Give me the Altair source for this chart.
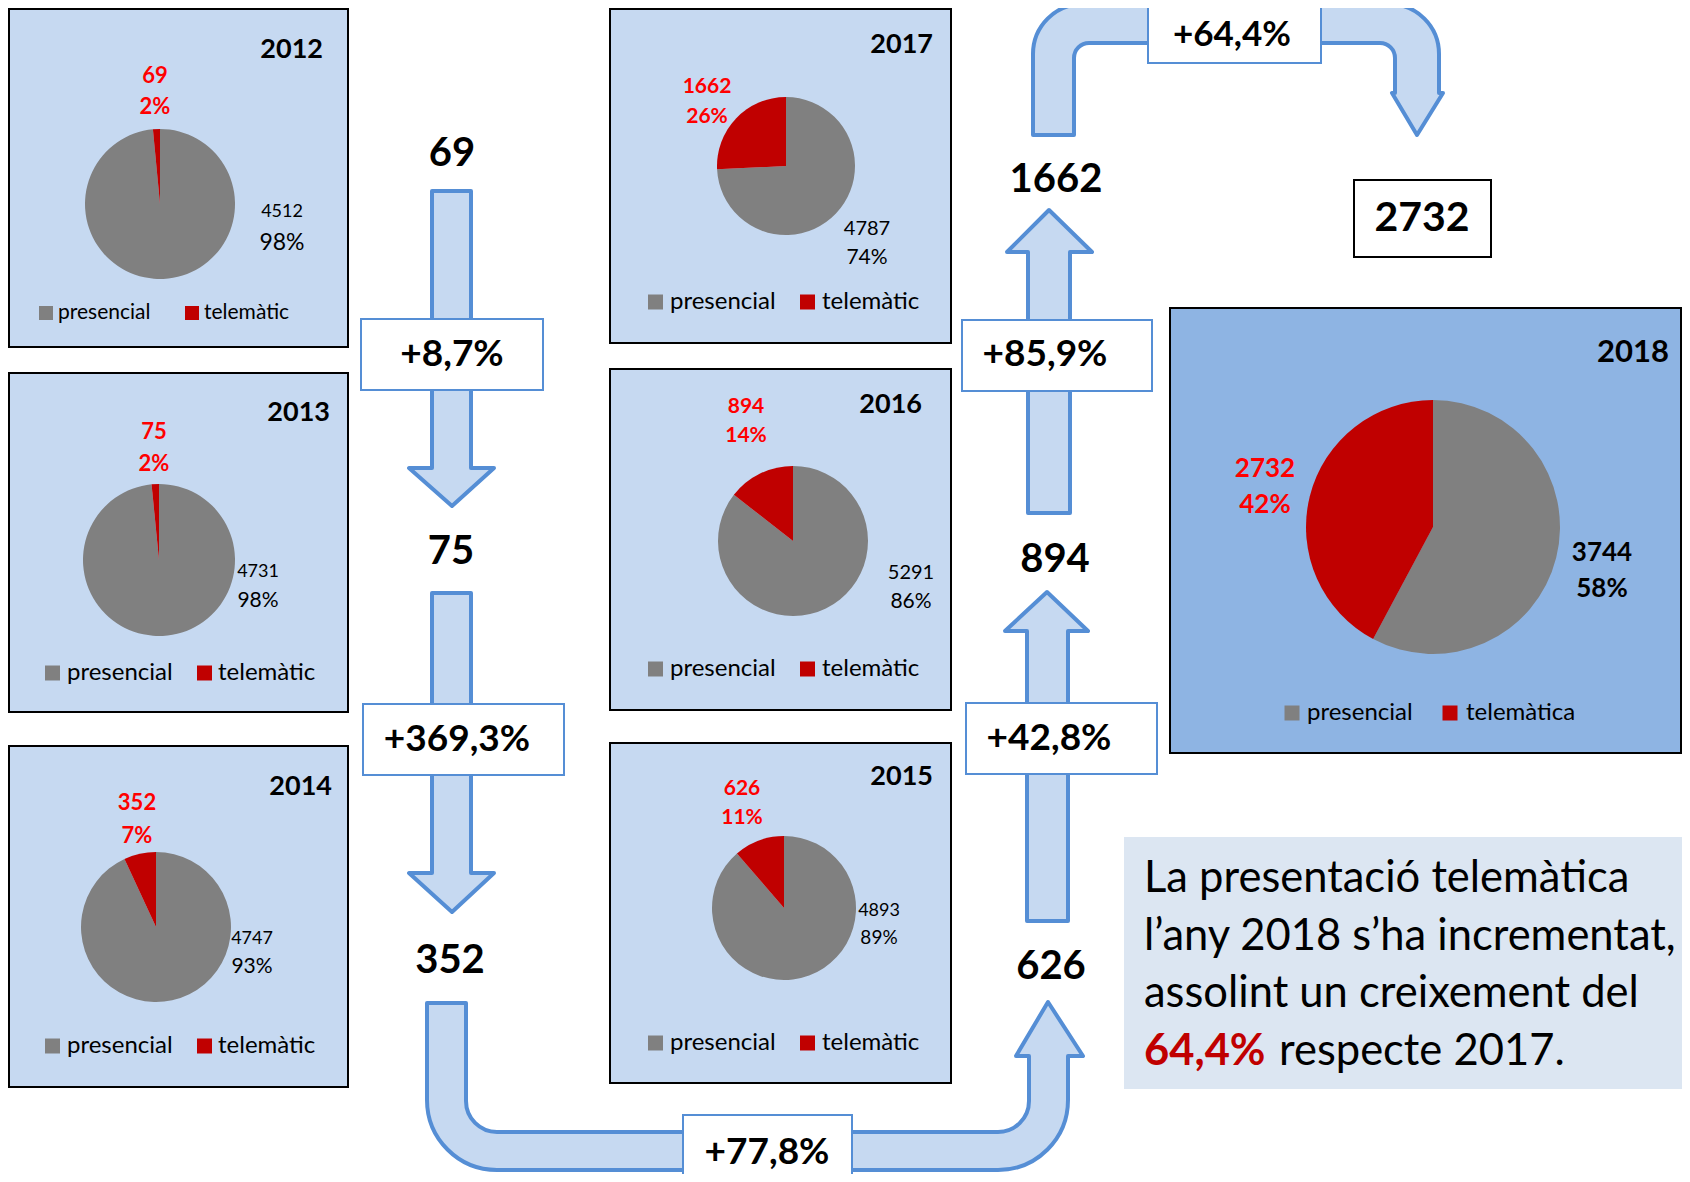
import altair as alt
import pandas as pd

# ---------------- data ----------------
years = [2012, 2013, 2014, 2015, 2016, 2017, 2018]
presencial = [4512, 4731, 4747, 4893, 5291, 4787, 3744]
telematic = [69, 75, 352, 626, 894, 1662, 2732]
pct_presencial = ["98%", "98%", "93%", "89%", "86%", "74%", "58%"]
pct_telematic = ["2%", "2%", "7%", "11%", "14%", "26%", "42%"]
categories = ["presencial", "telemàtic"]
legend_labels = ["presencial", "telemàtic"]
legend_labels_2018 = ["presencial", "telemàtica"]
growth = ["+8,7%", "+369,3%", "+77,8%", "+42,8%", "+85,9%", "+64,4%"]
paragraph = ["La presentació telemàtica", "l’any 2018 s’ha incrementat,", "assolint un creixement del"]
para_highlight = "64,4%"
para_tail = "respecte 2017."

# ---------------- layout (pixel positions) ----------------
FONT = "Lato"
PANEL_BG = "#C6D9F1"
PANEL_BG_2018 = "#8EB4E3"
ARROW_FILL = "#C6D9F1"
ARROW_STROKE = "#558ED5"

layout = {
    2012: dict(panel=(9, 348, 9, 347), pie=(160, 204, 75), title=(323, 50, 27),
               red=(155, 76, 107, 22), black=(282, 212, 243, 18, 23),
               legend=(46, 58, 192, 204, 313, 14, 21)),
    2013: dict(panel=(9, 348, 373, 712), pie=(159, 560, 76), title=(330, 413, 27),
               red=(154, 432, 464, 22), black=(258, 572, 601, 18, 21),
               legend=(52.5, 67, 204.5, 218, 673, 15, 24)),
    2014: dict(panel=(9, 348, 746, 1087), pie=(156, 927, 75), title=(332, 787, 27),
               red=(137, 803, 836, 22), black=(252, 939, 967, 18, 21),
               legend=(52.5, 67, 204.5, 218, 1046, 15, 24)),
    2015: dict(panel=(610, 951, 743, 1083), pie=(784, 908, 72), title=(933, 777, 27),
               red=(742, 789, 818, 21), black=(879, 911, 938, 18, 19),
               legend=(655.5, 670, 807.5, 822, 1043, 15, 24)),
    2016: dict(panel=(610, 951, 369, 710), pie=(793, 541, 75), title=(922, 405, 27),
               red=(746, 407, 436, 21), black=(911, 573, 602, 20, 21),
               legend=(655.5, 670, 807.5, 822, 669, 15, 24)),
    2017: dict(panel=(610, 951, 9, 343), pie=(786, 166, 69), title=(933, 45, 27),
               red=(707, 87, 117, 21), black=(867, 229, 258, 20, 21),
               legend=(655.5, 670, 807.5, 822, 302, 15, 24)),
    2018: dict(panel=(1170, 1681, 308, 753), pie=(1433, 527, 127), title=(1669, 353, 31),
               red=(1265, 469, 505, 26), black=(1602, 553, 589, 26, 26),
               legend=(1292, 1307, 1450, 1466, 713, 15, 24)),
}

# positions of the big flow numbers (2012..2017)
flow_pos = [(452, 154), (451, 552), (450, 961), (1051, 967), (1055, 560), (1056, 180)]
# growth boxes: (x0, x1, y0, y1, label x, label y, font size)
growth_boxes = [
    (361, 543, 319, 390, 452, 355, 37),
    (363, 564, 704, 775, 457, 740, 37),
    (683, 852, 1115, 1195, 767, 1153, 37),
    (966, 1157, 703, 774, 1049, 739, 37),
    (962, 1152, 320, 391, 1045, 355, 37),
    (1148, 1321, -10, 63, 1232, 35, 35),
]
final_box = (1354, 1491, 180, 257, 1422, 219)
text_box = (1124, 1700, 837, 1089)
para_x = 1144
para_baselines = [892, 950, 1007, 1065]
para_tail_x = 1279
PARA_SIZE = 43.5


def P(*cmds):
    return " ".join(cmds)


# arrow outlines (SVG path commands in page pixels)
arrow_paths = [
    # 69 -> 75
    P("M432,191", "L471,191", "L471,468", "L494,468", "L452,506", "L409,468", "L432,468", "Z"),
    # 75 -> 352
    P("M432,593", "L471,593", "L471,873", "L494,873", "L452,912", "L409,873", "L432,873", "Z"),
    # 352 -> 626 (U-turn at bottom)
    P("M427,1003", "L466,1003", "L466,1101", "A31,31,0,0,0,497,1132", "L998,1132",
      "A31,31,0,0,0,1029,1101", "L1029,1056", "L1016,1056", "L1048,1002", "L1083,1056",
      "L1068,1056", "L1068,1100", "A70,70,0,0,1,998,1170", "L497,1170",
      "A70,70,0,0,1,427,1100", "Z"),
    # 626 -> 894
    P("M1027,921", "L1027,631", "L1005,631", "L1047,592", "L1088,631", "L1068,631", "L1068,921", "Z"),
    # 894 -> 1662
    P("M1028,513", "L1028,252", "L1007,252", "L1049,210", "L1092,252", "L1070,252", "L1070,513", "Z"),
    # 1662 -> 2732 (U-turn at top)
    P("M1033,135", "L1033,54", "A50,50,0,0,1,1083,4", "L1389,4", "A50,50,0,0,1,1439,54",
      "L1439,93", "L1443,93", "L1417,135", "L1392,93", "L1395,93", "L1395,58",
      "A15,15,0,0,0,1380,43", "L1089,43", "A15,15,0,0,0,1074,58", "L1074,135", "Z"),
]

# ---------------- scales ----------------
XS = alt.Scale(domain=[8, 1682], nice=False, zero=False)
YS = alt.Scale(domain=[8, 1174], nice=False, zero=False, reverse=True)
CS = alt.Scale(domain=categories, range=["#808080", "#C00000"])


def X(field=None, datum=None):
    if datum is not None:
        return alt.X(datum=datum, scale=XS, axis=None)
    return alt.X(field, type="quantitative", scale=XS, axis=None)


def Y(field=None, datum=None):
    if datum is not None:
        return alt.Y(datum=datum, scale=YS, axis=None)
    return alt.Y(field, type="quantitative", scale=YS, axis=None)


layers = []

# panel backgrounds
panel_rows = []
for y in years:
    x0, x1, y0, y1 = layout[y]["panel"]
    panel_rows.append(dict(x0=x0, x1=x1, y0=y0, y1=y1,
                           f=PANEL_BG_2018 if y == 2018 else PANEL_BG))
layers.append(
    alt.Chart(pd.DataFrame(panel_rows)).mark_rect(stroke="black", strokeWidth=2).encode(
        x=X("x0"), x2="x1", y=Y("y0"), y2="y1", fill=alt.Fill("f:N", scale=None)
    )
)

# text box background
tb = pd.DataFrame([dict(x0=text_box[0], x1=text_box[1], y0=text_box[2], y1=text_box[3])])
layers.append(
    alt.Chart(tb).mark_rect(fill="#DCE6F2").encode(x=X("x0"), x2="x1", y=Y("y0"), y2="y1")
)

# arrows
arrows_df = pd.DataFrame(dict(ax=[0] * len(arrow_paths), ay=[0] * len(arrow_paths), p=arrow_paths))
layers.append(
    alt.Chart(arrows_df).mark_point(
        filled=True, fill=ARROW_FILL, stroke=ARROW_STROKE, strokeWidth=4, opacity=1,
        fillOpacity=1, strokeOpacity=1, size=4, strokeJoin="round"
    ).encode(x=X("ax"), y=Y("ay"), shape=alt.Shape("p:N", scale=None))
)

# growth boxes
gb = pd.DataFrame([dict(x0=b[0], x1=b[1], y0=b[2], y1=b[3], lx=b[4], ly=b[5], fs=b[6], t=g)
                   for b, g in zip(growth_boxes, growth)])
layers.append(
    alt.Chart(gb).mark_rect(fill="white", stroke=ARROW_STROKE, strokeWidth=2).encode(
        x=X("x0"), x2="x1", y=Y("y0"), y2="y1"
    )
)
layers.append(
    alt.Chart(gb).mark_text(font=FONT, fontWeight="bold", color="black",
                            align="center", baseline="middle").encode(
        x=X("lx"), y=Y("ly"), text="t:N", size=alt.Size("fs:Q", scale=None, legend=None))
)

# final box 2732
fb = pd.DataFrame([dict(x0=final_box[0], x1=final_box[1], y0=final_box[2], y1=final_box[3],
                        lx=final_box[4], ly=final_box[5], t=str(telematic[-1]))])
layers.append(
    alt.Chart(fb).mark_rect(fill="white", stroke="black", strokeWidth=2).encode(
        x=X("x0"), x2="x1", y=Y("y0"), y2="y1")
)
layers.append(
    alt.Chart(fb).mark_text(font=FONT, fontSize=41, fontWeight="bold", color="black",
                            align="center", baseline="middle").encode(
        x=X("lx"), y=Y("ly"), text="t:N")
)

# flow numbers
flow = pd.DataFrame([dict(x=p[0], y=p[1], t=str(v)) for p, v in zip(flow_pos, telematic[:6])])
layers.append(
    alt.Chart(flow).mark_text(font=FONT, fontSize=40, fontWeight="bold", color="black",
                              align="center", baseline="middle").encode(
        x=X("x"), y=Y("y"), text="t:N")
)

# pies
pie_rows = []
for i, y in enumerate(years):
    pie_rows.append(dict(year=y, categoria=categories[0], valor=presencial[i], ord=0))
    pie_rows.append(dict(year=y, categoria=categories[1], valor=telematic[i], ord=1))
pie_df = pd.DataFrame(pie_rows)
for y in years:
    cx, cy, r = layout[y]["pie"]
    layers.append(
        alt.Chart(pie_df).transform_filter(alt.datum.year == y).mark_arc(outerRadius=r).encode(
            theta=alt.Theta("valor:Q", stack="normalize"),
            order=alt.Order("ord:Q"),
            color=alt.Color("categoria:N", scale=CS, legend=None),
            x=X(datum=cx), y=Y(datum=cy),
        )
    )

# legend squares
sq_rows, lt_rows = [], []
for y in years:
    s1x, t1x, s2x, t2x, ly, sq, fs = layout[y]["legend"]
    labels = legend_labels_2018 if y == 2018 else legend_labels
    sq_rows.append(dict(x=s1x, y=ly, categoria=categories[0], s=sq * sq))
    sq_rows.append(dict(x=s2x, y=ly, categoria=categories[1], s=sq * sq))
    lt_rows.append(dict(x=t1x, y=ly, t=labels[0], fs=fs))
    lt_rows.append(dict(x=t2x, y=ly, t=labels[1], fs=fs))
layers.append(
    alt.Chart(pd.DataFrame(sq_rows)).mark_square(opacity=1).encode(
        x=X("x"), y=Y("y"), size=alt.Size("s:Q", scale=None, legend=None),
        color=alt.Color("categoria:N", scale=CS, legend=None))
)
layers.append(
    alt.Chart(pd.DataFrame(lt_rows)).mark_text(font=FONT, color="black", align="left",
                                               baseline="middle").encode(
        x=X("x"), y=Y("y"), text="t:N", size=alt.Size("fs:Q", scale=None, legend=None))
)

# titles, red and black labels
title_rows, red_rows, black_rows, black_bold_rows = [], [], [], []
for i, y in enumerate(years):
    tx, ty, tfs = layout[y]["title"]
    title_rows.append(dict(x=tx, y=ty, t=str(y), fs=tfs))
    rx, ry1, ry2, rfs = layout[y]["red"]
    red_rows.append(dict(x=rx, y=ry1, t=str(telematic[i]), fs=rfs))
    red_rows.append(dict(x=rx, y=ry2, t=pct_telematic[i], fs=rfs))
    bx, by1, by2, bfs1, bfs2 = layout[y]["black"]
    target = black_bold_rows if y == 2018 else black_rows
    target.append(dict(x=bx, y=by1, t=str(presencial[i]), fs=bfs1))
    target.append(dict(x=bx, y=by2, t=pct_presencial[i], fs=bfs2))

layers.append(
    alt.Chart(pd.DataFrame(title_rows)).mark_text(font=FONT, fontWeight="bold", color="black",
                                                  align="right", baseline="middle").encode(
        x=X("x"), y=Y("y"), text="t:N", size=alt.Size("fs:Q", scale=None, legend=None))
)
layers.append(
    alt.Chart(pd.DataFrame(red_rows)).mark_text(font=FONT, fontWeight="bold", color="#FF0000",
                                                align="center", baseline="middle").encode(
        x=X("x"), y=Y("y"), text="t:N", size=alt.Size("fs:Q", scale=None, legend=None))
)
layers.append(
    alt.Chart(pd.DataFrame(black_rows)).mark_text(font=FONT, color="black",
                                                  align="center", baseline="middle").encode(
        x=X("x"), y=Y("y"), text="t:N", size=alt.Size("fs:Q", scale=None, legend=None))
)
layers.append(
    alt.Chart(pd.DataFrame(black_bold_rows)).mark_text(font=FONT, fontWeight="bold", color="black",
                                                       align="center", baseline="middle").encode(
        x=X("x"), y=Y("y"), text="t:N", size=alt.Size("fs:Q", scale=None, legend=None))
)

# paragraph
para_df = pd.DataFrame([dict(x=para_x, y=b, t=t) for b, t in zip(para_baselines[:3], paragraph)]
                       + [dict(x=para_tail_x, y=para_baselines[3], t=para_tail)])
layers.append(
    alt.Chart(para_df).mark_text(font=FONT, fontSize=PARA_SIZE, color="black", align="left",
                                 baseline="alphabetic").encode(x=X("x"), y=Y("y"), text="t:N")
)
hl_df = pd.DataFrame([dict(x=para_x, y=para_baselines[3], t=para_highlight)])
layers.append(
    alt.Chart(hl_df).mark_text(font=FONT, fontSize=PARA_SIZE, fontWeight="bold", color="#C00000",
                               align="left", baseline="alphabetic").encode(
        x=X("x"), y=Y("y"), text="t:N")
)

chart = alt.layer(*layers).properties(
    width=1674, height=1166, padding=0,
    autosize=alt.AutoSizeParams(type="none"),
).configure_view(stroke=None).resolve_scale(size="independent", fill="independent", shape="independent")

chart.save("out.html", embed_options={"renderer": "svg", "actions": False})
